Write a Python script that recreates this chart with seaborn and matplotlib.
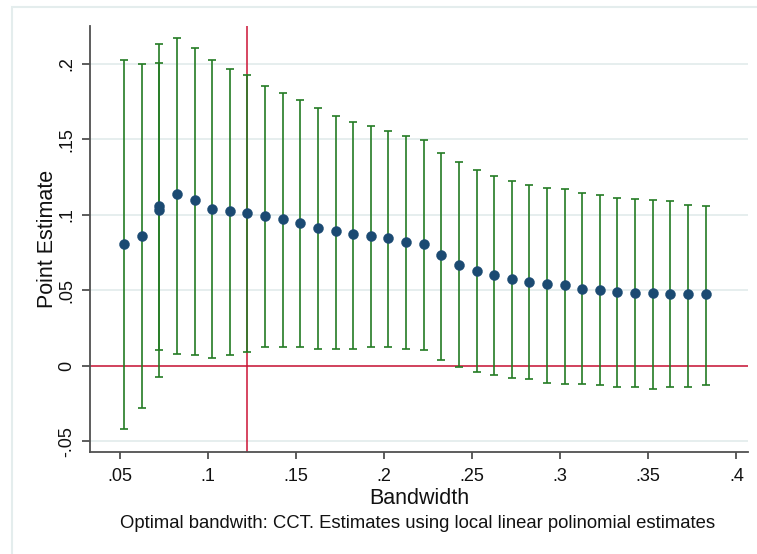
import matplotlib
matplotlib.use("Agg")
import matplotlib.pyplot as plt
from matplotlib.patches import Rectangle
import seaborn as sns
import pandas as pd

# Bandwidth grid (the third bandwidth carries two estimates)
bandwidth = [0.0525, 0.0625, 0.0725, 0.0725, 0.0825, 0.0925, 0.1025, 0.1125,
             0.1225, 0.1325, 0.1425, 0.1525, 0.1625, 0.1725, 0.1825, 0.1925,
             0.2025, 0.2125, 0.2225, 0.2325, 0.2425, 0.2525, 0.2625, 0.2725,
             0.2825, 0.2925, 0.3025, 0.3125, 0.3225, 0.3325, 0.3425, 0.3525,
             0.3625, 0.3725, 0.3825]
estimate = [0.0805, 0.0860, 0.1030, 0.1061, 0.1136, 0.1096, 0.1041, 0.1023,
            0.1010, 0.0995, 0.0971, 0.0946, 0.0915, 0.0891, 0.0875, 0.0860,
            0.0845, 0.0820, 0.0805, 0.0734, 0.0670, 0.0631, 0.0599, 0.0575,
            0.0553, 0.0544, 0.0535, 0.0511, 0.0504, 0.0489, 0.0482, 0.0482,
            0.0473, 0.0473, 0.0473]
ci_low = [-0.0420, -0.0278, -0.0073, 0.0106, 0.0075, 0.0069, 0.0053, 0.0069,
          0.0093, 0.0126, 0.0124, 0.0124, 0.0109, 0.0109, 0.0109, 0.0124,
          0.0124, 0.0109, 0.0102, 0.0038, -0.0009, -0.0042, -0.0060, -0.0082,
          -0.0090, -0.0115, -0.0121, -0.0121, -0.0130, -0.0139, -0.0139, -0.0152,
          -0.0139, -0.0139, -0.0130]
ci_high = [0.2028, 0.1998, 0.2131, 0.2005, 0.2170, 0.2106, 0.2028, 0.1965,
           0.1927, 0.1854, 0.1810, 0.1761, 0.1706, 0.1657, 0.1617, 0.1587,
           0.1556, 0.1525, 0.1498, 0.1412, 0.1350, 0.1295, 0.1255, 0.1224,
           0.1200, 0.1176, 0.1169, 0.1145, 0.1130, 0.1114, 0.1105, 0.1098,
           0.1092, 0.1065, 0.1059]
optimal_bw = 0.122

x_ticks = [0.05, 0.1, 0.15, 0.2, 0.25, 0.3, 0.35, 0.4]
x_tick_labels = [".05", ".1", ".15", ".2", ".25", ".3", ".35", ".4"]
y_ticks = [-0.05, 0, 0.05, 0.1, 0.15, 0.2]
y_tick_labels = ["-.05", "0", ".05", ".1", ".15", ".2"]

df = pd.DataFrame({"Bandwidth": bandwidth, "Estimate": estimate,
                   "lo": ci_low, "hi": ci_high})

sns.set_style("white")
plt.rcParams["font.family"] = ["Liberation Sans", "DejaVu Sans"]

W, H = 757, 554
fig = plt.figure(figsize=(W / 100, H / 100), dpi=100)
fig.patch.set_facecolor("white")
# graph-region frame, running off the right and bottom edges
fig.patches.append(Rectangle((12 / W, -0.1), 1.2, 1.1 - 7 / H,
                             transform=fig.transFigure, fill=False,
                             edgecolor="#e4eded", linewidth=1.5))

ax = fig.add_axes([90 / W, 1 - 452 / H, (748 - 90) / W, (452 - 26) / H])
ax.set_facecolor("white")

for yv in y_ticks:
    ax.axhline(yv, color="#e6eeee", linewidth=1.4, zorder=0)

ax.errorbar(df["Bandwidth"], df["Estimate"],
            yerr=[df["Estimate"] - df["lo"], df["hi"] - df["Estimate"]],
            fmt="none", ecolor="#247c24", elinewidth=1.2, capsize=2.8,
            capthick=1.2, zorder=2)
sns.scatterplot(data=df, x="Bandwidth", y="Estimate", ax=ax, s=52,
                color="#1b4a72", edgecolor="#1b4a72", linewidth=0.3,
                zorder=3, legend=False)

ax.axhline(0, color="#cc1436", linewidth=1.1, zorder=1)
ax.axvline(optimal_bw, color="#cc1436", linewidth=1.1, zorder=1)

ax.set_xlim(0.0331, 0.4066)
ax.set_ylim(-0.0572, 0.2252)
ax.set_xticks(x_ticks)
ax.set_xticklabels(x_tick_labels)
ax.set_yticks(y_ticks)
ax.set_yticklabels(y_tick_labels, rotation=90, va="center")

for side in ["top", "right"]:
    ax.spines[side].set_visible(False)
for side in ["left", "bottom"]:
    ax.spines[side].set_color("#505050")
    ax.spines[side].set_linewidth(1.3)

ax.tick_params(axis="both", which="major", direction="out", color="#303030",
               width=1.1, labelsize=13, labelcolor="#111111", left=True,
               bottom=True)
ax.tick_params(axis="y", length=6, pad=4.5)
ax.tick_params(axis="x", length=5, pad=6.5)

ax.set_xlabel("Bandwidth", fontsize=15.5, color="#111111", labelpad=2)
ax.set_ylabel("Point Estimate", fontsize=15.5, color="#111111", labelpad=0)

fig.text(418 / W, 1 - 523 / H,
         "Optimal bandwith: CCT. Estimates using local linear polinomial estimates",
         ha="center", va="center", fontsize=13.3, color="#111111")

fig.savefig("out.png", dpi=100, facecolor="white")
